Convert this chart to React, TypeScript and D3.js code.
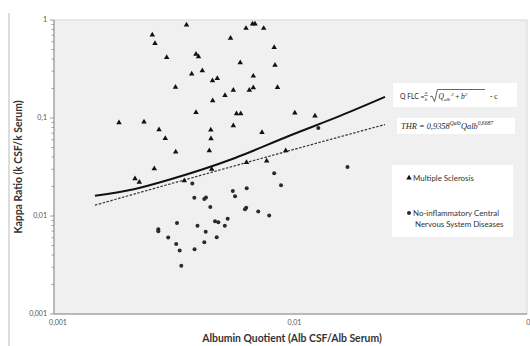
import React from 'react';
import * as d3 from 'd3';

// Multiple Sclerosis (triangles)
const msQ = [0.002604, 0.002673, 0.002996, 0.003633, 0.003985, 0.004083, 0.003822, 0.004237, 0.004679, 0.004903, 0.003264, 0.004688, 0.003985, 0.005284, 0.005731, 0.005577, 0.006129, 0.006485, 0.006908, 0.007078, 0.007702, 0.008532, 0.0086, 0.006962, 0.006697, 0.006962, 0.00881, 0.005912, 0.006159, 0.01043, 0.01269, 0.005731, 0.007576, 0.004603, 0.004612, 0.004537, 0.003271, 0.001883, 0.002402, 0.00278, 0.002955, 0.002655, 0.0022, 0.002295, 0.003556, 0.004644, 0.006516, 0.007929, 0.009544];
const msKappa = [0.703, 0.578, 0.416, 0.889, 0.447, 0.422, 0.281, 0.304, 0.24, 0.254, 0.206, 0.15, 0.114, 0.17, 0.192, 0.651, 0.367, 0.823, 0.91, 0.91, 0.823, 0.524, 0.347, 0.268, 0.192, 0.204, 0.205, 0.111, 0.111, 0.1124, 0.1048, 0.0834, 0.0711, 0.0754, 0.0615, 0.0464, 0.045, 0.0895, 0.091, 0.076, 0.0618, 0.0304, 0.024, 0.0222, 0.023, 0.03, 0.0353, 0.0364, 0.0464];

// No-inflammatory CNS diseases (circles)
const nindQ = [0.003845, 0.008532, 0.009119, 0.005702, 0.006529, 0.005827, 0.003921, 0.00432, 0.004392, 0.00458, 0.006421, 0.006497, 0.007306, 0.008127, 0.002761, 0.002761, 0.00304, 0.003312, 0.004044, 0.004379, 0.004795, 0.004952, 0.005274, 0.005425, 0.003286, 0.0034, 0.003929, 0.00432, 0.004875, 0.003453, 0.01311, 0.01742];
const nindKappa = [0.02146, 0.02727, 0.02057, 0.018, 0.01918, 0.01592, 0.01533, 0.01491, 0.01544, 0.01235, 0.01173, 0.01215, 0.01111, 0.01012, 0.00733, 0.007, 0.00602, 0.00848, 0.00794, 0.00692, 0.00885, 0.00862, 0.00794, 0.00938, 0.00518, 0.00445, 0.00458, 0.00539, 0.00608, 0.00311, 0.0791, 0.0316];

// QFLC curve (solid) and THR line (dashed)
const qflcQ = [0.00149, 0.0022, 0.00309, 0.00583, 0.00995, 0.0162, 0.0251];
const qflcKappa = [0.0161, 0.0189, 0.0236, 0.0391, 0.0663, 0.105, 0.164];
const thrQ = [0.00149, 0.00995, 0.0251];
const thrKappa = [0.0129, 0.0466, 0.0858];

const yTickValues = [1, 0.1, 0.01, 0.001];
const yTickLabels = ['1', '0,1', '0,01', '0,001'];
const xTickValues = [0.001, 0.01, 0.1];
const xTickLabels = ['0,001', '0,01', '0,1'];

const legendLabels = ['Multiple Sclerosis', 'No-inflammatory Central', 'Nervous System Diseases'];

export default function App() {
  const W = 530, H = 346;
  const left = 54, right = 527, top = 20, bottom = 314;
  const x = d3.scaleLog().domain([0.001, 0.1]).range([left, right]);
  const y = d3.scaleLog().domain([0.001, 1]).range([bottom, top]);

  const line = d3.line<[number, number]>().x(d => x(d[0])).y(d => y(d[1])).curve(d3.curveMonotoneX);
  const qflcPath = line(qflcQ.map((q, i) => [q, qflcKappa[i]]) as [number, number][]) || '';
  const thrPath = line(thrQ.map((q, i) => [q, thrKappa[i]]) as [number, number][]) || '';
  const tri = d3.symbol(d3.symbolTriangle, 13)() || '';

  const minorY: number[] = [];
  for (let e = -3; e < 0; e++) for (let m = 2; m <= 9; m++) minorY.push(m * Math.pow(10, e));

  const font = 'Lato, "Open Sans", sans-serif';
  const math = '"Liberation Serif", "DejaVu Serif", serif';

  return (
    <svg width={W} height={H} style={{ position: 'absolute', left: 0, top: 0, background: '#fff' }}>
      <rect x={0} y={0} width={W} height={H} fill="#fff" />
      <line x1={9} y1={13} x2={9} y2={H} stroke="#bbb" strokeWidth={1} />
      {/* plot area */}
      <rect x={left} y={top} width={right - left} height={bottom - top} fill="#f0f0f0" stroke="#d6d6d6" strokeWidth={1} />
      {/* axes */}
      <line x1={left} y1={top} x2={left} y2={bottom} stroke="#8a8a8a" strokeWidth={1} />
      <line x1={left} y1={bottom} x2={right} y2={bottom} stroke="#8a8a8a" strokeWidth={1} />
      {minorY.map((v, i) => (
        <line key={'my' + i} x1={left - 2.5} x2={left} y1={y(v)} y2={y(v)} stroke="#8a8a8a" strokeWidth={0.8} />
      ))}
      {yTickValues.map((v, i) => (
        <g key={'yt' + i}>
          <line x1={left - 4} x2={left} y1={y(v)} y2={y(v)} stroke="#8a8a8a" strokeWidth={0.8} />
          <text x={left - 7} y={y(v) + 2.4} fontSize={7} fill="#555" textAnchor="end" fontFamily={font}>{yTickLabels[i]}</text>
        </g>
      ))}
      {xTickValues.map((v, i) => (
        <text key={'xt' + i} x={x(v) + 4} y={bottom + 11} fontSize={7} fill="#555" textAnchor="middle" fontFamily={font}>{xTickLabels[i]}</text>
      ))}
      {/* axis titles */}
      <text x={292} y={342} fontSize={10.4} fontWeight="bold" fill="#333" textAnchor="middle" fontFamily={font}>Albumin Quotient (Alb CSF/Alb Serum)</text>
      <text transform="translate(22,167) rotate(-90)" fontSize={10.4} fontWeight="bold" fill="#333" textAnchor="middle" fontFamily={font}>Kappa Ratio (k CSF/k Serum)</text>

      {/* curves */}
      <path d={thrPath} fill="none" stroke="#333" strokeWidth={1.2} strokeDasharray="2.5,1.5" />
      <path d={qflcPath} fill="none" stroke="#111" strokeWidth={2} />

      {/* points */}
      {nindQ.map((q, i) => (
        <circle key={'c' + i} cx={x(q)} cy={y(nindKappa[i])} r={2} fill="#2a2a2a" />
      ))}
      {msQ.map((q, i) => (
        <path key={'t' + i} d={tri} transform={`translate(${x(q)},${y(msKappa[i])})`} fill="#111" />
      ))}

      {/* formula boxes */}
      <rect x={393} y={83} width={124} height={24} fill="#fff" />
      <g fill="#222">
        <text x={400} y={99} fontSize={6.8} fontFamily={font}>Q FLC =</text>
        <g fontFamily={math}>
          <text x={426} y={94} fontSize={5} fontStyle="italic" textAnchor="middle">a</text>
          <line x1={424} x2={428} y1={95.5} y2={95.5} stroke="#222" strokeWidth={0.5} />
          <text x={426} y={101} fontSize={5} fontStyle="italic" textAnchor="middle">b</text>
          <path d="M430,97 L432,96 L434.5,101.5 L437.5,89.5 L485,89.5" fill="none" stroke="#222" strokeWidth={0.7} />
          <text x={438.5} y={99} fontSize={7.5} fontStyle="italic">Q<tspan fontSize={5} dy={1.5}>alb</tspan><tspan fontSize={5} dy={-5} dx={1}>2</tspan><tspan fontSize={7.5} dy={3.5} dx={1.5} fontStyle="normal">+</tspan><tspan dx={1.5}>b</tspan><tspan fontSize={5} dy={-3.5}>2</tspan></text>
          <text x={490} y={99} fontSize={7.5}>- c</text>
        </g>
      </g>
      <rect x={397} y={118} width={118} height={16} fill="#fff" />
      <g fontFamily={math} fill="#222" fontStyle="italic">
        <text x={401} y={128.5} fontSize={8.4}>THR = 0,9358<tspan fontSize={5.6} dy={-3.2}>Qalb</tspan><tspan fontSize={8.4} dy={3.2}>Qalb</tspan><tspan fontSize={5.6} dy={-3.2}>0,6687</tspan></text>
      </g>

      {/* legend */}
      <rect x={392} y={165} width={121} height={72} fill="#fff" />
      <path d={tri} transform="translate(409,178)" fill="#111" />
      <text x={413} y={180.6} fontSize={7.9} fill="#333" fontFamily={font}>{legendLabels[0]}</text>
      <circle cx={409} cy={213} r={2} fill="#2a2a2a" />
      <text x={413} y={215.6} fontSize={7.9} fill="#333" fontFamily={font}>{legendLabels[1]}</text>
      <text x={415} y={227.2} fontSize={7.9} fill="#333" fontFamily={font}>{legendLabels[2]}</text>
    </svg>
  );
}
